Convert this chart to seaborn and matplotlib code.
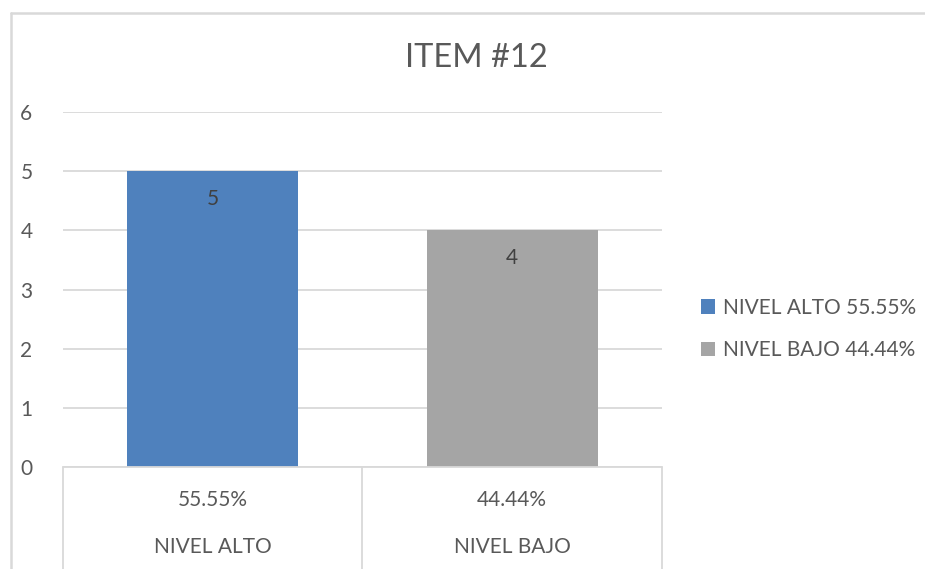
import matplotlib
matplotlib.use("Agg")
import matplotlib.pyplot as plt
from matplotlib.lines import Line2D
from matplotlib.patches import Patch
import seaborn as sns
import pandas as pd

# Chart data
categories = ["NIVEL ALTO", "NIVEL BAJO"]
counts = [5, 4]
percent_labels = ["55.55%", "44.44%"]
legend_labels = ["NIVEL ALTO 55.55%", "NIVEL BAJO 44.44%"]
bar_colors = ["#4F81BD", "#A5A5A5"]
y_ticks = [0, 1, 2, 3, 4, 5, 6]
title = "ITEM #12"

sns.set_theme(style="white")
plt.rcParams["font.family"] = ["Lato", "DejaVu Sans"]

TEXT = "#595959"
GRID = "#D9D9D9"
FS = 15

W, H = 925, 569
fig = plt.figure(figsize=(W / 100, H / 100), dpi=100)

def fx(px):
    return px / W

def fy(py):
    return 1 - py / H

# Plot area
left, right, top, bottom = 63, 662, 112, 467
ax = fig.add_axes([fx(left), fy(bottom), fx(right - left), fy(top) - fy(bottom)])

df = pd.DataFrame({"cat": categories, "val": counts})
sns.barplot(data=df, x="cat", y="val", hue="cat", palette=bar_colors,
            width=0.57, legend=False, ax=ax, saturation=1, zorder=3,
            linewidth=0, edgecolor="none")

ax.set_ylim(0, 6)
ax.set_xlim(-0.5, 1.5)
ax.set_yticks(y_ticks)
ax.set_yticklabels([str(t) for t in y_ticks], fontsize=FS, color=TEXT)
ax.tick_params(axis="y", length=0, pad=22)
ax.set_xticks([])
ax.set_xlabel("")
ax.set_ylabel("")
ax.grid(axis="y", color=GRID, linewidth=1.3, zorder=0)
ax.set_axisbelow(True)
for s in ax.spines.values():
    s.set_visible(False)

# Value labels inside the top of each bar
for i, v in enumerate(counts):
    ax.text(i, v - 0.47, str(v), ha="center", va="center", fontsize=FS,
            color="#404040", zorder=4)

# Category table under the axis
table_lines = [
    Line2D([fx(left), fx(right)], [fy(bottom), fy(bottom)]),
    Line2D([fx(left), fx(left)], [fy(bottom), 0]),
    Line2D([fx(362), fx(362)], [fy(bottom), 0]),
    Line2D([fx(right), fx(right)], [fy(bottom), 0]),
]
for ln in table_lines:
    ln.set_color(GRID)
    ln.set_linewidth(1.3)
    ln.set_transform(fig.transFigure)
    fig.add_artist(ln)

for i, (cat, pct) in enumerate(zip(categories, percent_labels)):
    cx = fx(left) + (i + 0.5) * fx(right - left) / 2
    fig.text(cx, fy(500), pct, ha="center", va="center", fontsize=FS, color=TEXT)
    fig.text(cx, fy(547), cat, ha="center", va="center", fontsize=FS, color=TEXT)

# Title
fig.text(fx(476), fy(58), title, ha="center", va="center", fontsize=23.5, color=TEXT)

# Legend
handles = [Patch(facecolor=c, edgecolor="none") for c in bar_colors]
fig.legend(handles, legend_labels, loc="center left",
           bbox_to_anchor=(fx(682), fy(329)), frameon=False, fontsize=FS,
           labelcolor=TEXT, handlelength=0.7, handleheight=0.7,
           handletextpad=0.35, labelspacing=1.1)

# Chart frame
for xs, ys in [([fx(11), fx(925)], [fy(12.5), fy(12.5)]),
               ([fx(11), fx(11)], [fy(12.5), 0])]:
    fig.add_artist(Line2D(xs, ys, color=GRID, linewidth=1.8,
                          transform=fig.transFigure))

fig.savefig("out.png", dpi=100, facecolor="white")
